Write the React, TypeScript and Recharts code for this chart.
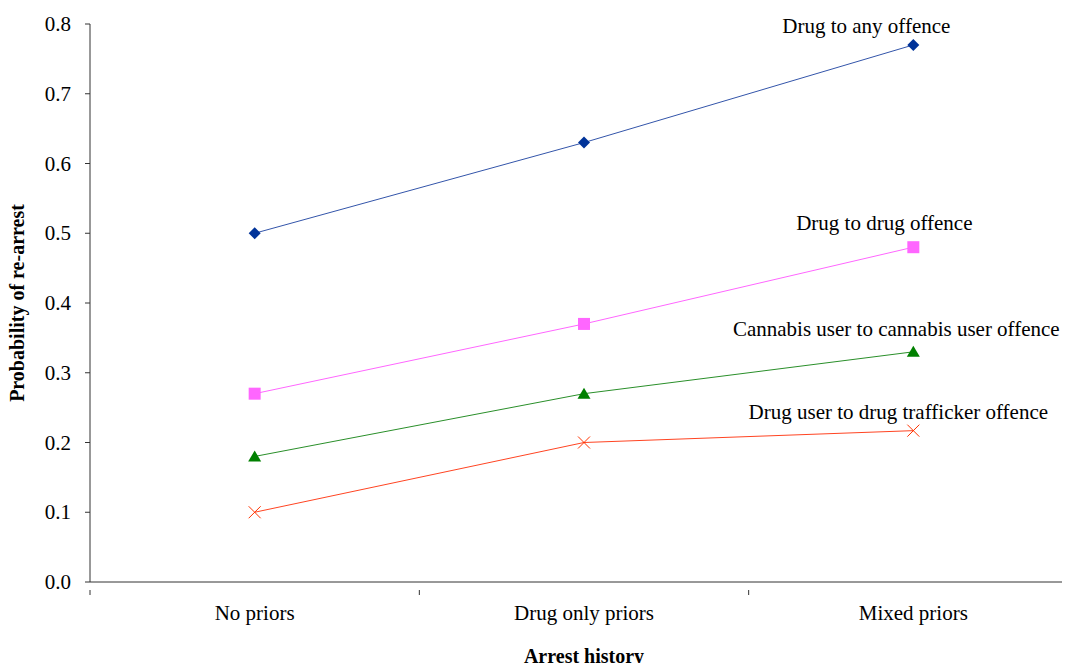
import React from 'react';
import { LineChart, Line, XAxis, YAxis, LabelList } from 'recharts';

const categories = ['No priors', 'Drug only priors', 'Mixed priors'];
const anyOffence = [0.5, 0.63, 0.77];
const drugOffence = [0.27, 0.37, 0.48];
const cannabisOffence = [0.18, 0.27, 0.33];
const traffickerOffence = [0.1, 0.2, 0.217];
const yTicks = [0, 0.1, 0.2, 0.3, 0.4, 0.5, 0.6, 0.7, 0.8];

const FONT = '"Liberation Serif", "Times New Roman", serif';

// each category sits in the middle of its slot, boundaries carry tick marks
const data = categories.map((name, i) => ({
  x: i + 0.5,
  name,
  any: anyOffence[i],
  drug: drugOffence[i],
  cannabis: cannabisOffence[i],
  trafficker: traffickerOffence[i],
}));

const xTicks = [0, 0.5, 1, 1.5, 2, 2.5, 3];

const XTick = (props: any) => {
  const { x, y, payload } = props;
  const v = payload.value as number;
  if (Number.isInteger(v)) {
    return <line x1={x} x2={x} y1={y} y2={y + 5} stroke="#333" />;
  }
  return (
    <text x={x} y={y + 30} textAnchor="middle" style={{ fontFamily: FONT, fontSize: 21 }} fill="#000">
      {categories[Math.floor(v)]}
    </text>
  );
};

const YTick = (props: any) => {
  const { x, y, payload } = props;
  return (
    <text x={x} y={y} textAnchor="end" dy={7} style={{ fontFamily: FONT, fontSize: 21 }} fill="#000">
      {(payload.value as number).toFixed(1)}
    </text>
  );
};

const Diamond = (props: any) => {
  const { cx, cy } = props;
  return <path d={`M${cx},${cy - 6}L${cx + 6},${cy}L${cx},${cy + 6}L${cx - 6},${cy}Z`} fill="#003399" />;
};
const Square = (props: any) => {
  const { cx, cy } = props;
  return <rect x={cx - 6} y={cy - 6} width={12} height={12} fill="#ff66ff" />;
};
const Triangle = (props: any) => {
  const { cx, cy } = props;
  return <path d={`M${cx},${cy - 6}L${cx + 6.5},${cy + 5}L${cx - 6.5},${cy + 5}Z`} fill="#008000" />;
};
const Cross = (props: any) => {
  const { cx, cy } = props;
  return (
    <path
      d={`M${cx - 6},${cy - 6}L${cx + 6},${cy + 6}M${cx + 6},${cy - 6}L${cx - 6},${cy + 6}`}
      stroke="#ff3300"
      strokeWidth={1}
      fill="none"
    />
  );
};

// series name written beside the last point only
const endLabel = (text: string, dx: number, dy: number) => (props: any) => {
  const { x, y, index } = props;
  if (index !== categories.length - 1) return null;
  return (
    <text x={x + dx} y={y + dy} textAnchor="middle" dominantBaseline="central" style={{ fontFamily: FONT, fontSize: 21 }} fill="#000">
      {text}
    </text>
  );
};

export default function App() {
  return (
    <div style={{ width: 1062, height: 655, overflow: 'hidden', fontFamily: FONT }}>
      <LineChart width={1090} height={680} data={data} margin={{ top: 16, right: 20, bottom: 0, left: 0 }}>
        <XAxis
          type="number"
          dataKey="x"
          domain={[0, 3]}
          ticks={xTicks}
          interval={0}
          tickLine={false}
          tick={<XTick />}
          stroke="#333"
          height={106}
          label={{ value: 'Arrest history', position: 'insideTop', dy: 62, fontFamily: FONT, fontSize: 20, fontWeight: 'bold', fill: '#000' }}
        />
        <YAxis
          type="number"
          domain={[0, 0.8]}
          ticks={yTicks}
          interval={0}
          tickSize={5}
          tickMargin={14}
          stroke="#333"
          width={82}
          tick={<YTick />}
          label={{ value: 'Probability of re-arrest', angle: -90, position: 'insideLeft', dx: 4, fontFamily: FONT, fontSize: 20, fontWeight: 'bold', fill: '#000', style: { textAnchor: 'middle' } }}
        />
        <Line dataKey="any" stroke="#3355aa" strokeWidth={1} dot={<Diamond />} isAnimationActive={false}>
          <LabelList content={endLabel('Drug to any offence', -47, -19)} />
        </Line>
        <Line dataKey="drug" stroke="#ff66ff" strokeWidth={1} dot={<Square />} isAnimationActive={false}>
          <LabelList content={endLabel('Drug to drug offence', -29, -24)} />
        </Line>
        <Line dataKey="cannabis" stroke="#2a8f2a" strokeWidth={1} dot={<Triangle />} isAnimationActive={false}>
          <LabelList content={endLabel('Cannabis user to cannabis user offence', -17, -23)} />
        </Line>
        <Line dataKey="trafficker" stroke="#ff4422" strokeWidth={1} dot={<Cross />} isAnimationActive={false}>
          <LabelList content={endLabel('Drug user to drug trafficker offence', -15, -19)} />
        </Line>
      </LineChart>
    </div>
  );
}
